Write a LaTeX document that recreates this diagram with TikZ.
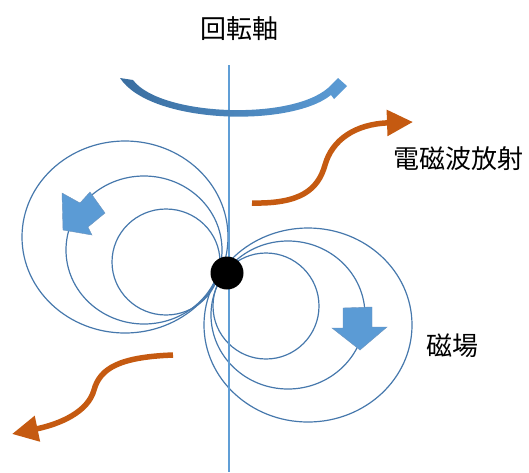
\documentclass[tikz,border=0pt]{standalone}
\usepackage{fontspec}
\newfontfamily\jpfont{Noto Sans CJK JP}
\usepackage{tikz}
\usetikzlibrary{arrows.meta}
\definecolor{fieldblue}{RGB}{70,120,172}
\definecolor{axisblue}{RGB}{96,158,214}
\definecolor{blockblue}{RGB}{91,155,213}
\definecolor{spinblue}{RGB}{58,110,160}
\definecolor{waveorange}{RGB}{197,90,17}

\begin{document}
\begin{tikzpicture}[
    x=1pt, y=-1pt,
    fieldline/.style={draw=fieldblue, line width=1.2pt},
    blockarrow/.style={fill=blockblue, draw=fieldblue!80, line width=0.4pt},
    wave/.style={draw=waveorange, line width=5.5pt, -{Triangle[length=26pt, width=25pt]}},
    label/.style={font=\jpfont\fontsize{26}{30}\selectfont, text=black, inner sep=0pt}
]
    \useasboundingbox (0,0) rectangle (529,472);

    % field loops, left and right of the star
    \draw[fieldline] (125,237) ellipse [x radius=103pt, y radius=96pt];
    \draw[fieldline] (144,250) ellipse [x radius=78pt, y radius=74pt];
    \draw[fieldline] (166,262) ellipse [x radius=54pt, y radius=53pt];
    \draw[fieldline] (308,325) ellipse [x radius=104pt, y radius=97pt];
    \draw[fieldline] (288,315) ellipse [x radius=77pt, y radius=74pt];
    \draw[fieldline] (266,306) ellipse [x radius=53pt, y radius=53pt];

    % rotation axis
    \coordinate (axtop) at (229,65);
    \coordinate (axbot) at (229,472);
    \draw[axisblue, line width=1.5pt] (axtop) -- (axbot);

    % direction of the field
    \filldraw[blockarrow] (62,193) -- (63,230) -- (92,235) -- (88,227) -- (105,213) -- (90,192) -- (80,203) -- cycle;
    \filldraw[blockarrow] (343,308) -- (372,307) -- (372,327) -- (387,327) -- (360,350) -- (332,328) -- (343,328) -- cycle;

    % spin arrow
    \shade[left color=spinblue, right color=blockblue]
        (120,78) -- (133,80) .. controls (160,116) and (290,121) .. (328,88)
        -- (338,78) -- (347,86) -- (334,99) -- (331,95)
        .. controls (290,128) and (150,124) .. (120,78) -- cycle;

    % emitted waves
    \draw[wave] (252,203) .. controls (300,204) and (318,190) .. (325,165)
        .. controls (332,140) and (355,124) .. (413,122);
    \draw[wave] (173,355) .. controls (120,357) and (100,368) .. (94,390)
        .. controls (88,412) and (60,424) .. (12,434);

    % central star
    \node[circle, fill=black, minimum size=33pt, inner sep=0pt] (star) at (227,273) {};

    \node[label] (axis) at (239,29) {回転軸};
    \node[label] (emit) at (458,159) {電磁波放射};
    \node[label] (field) at (452,346) {磁場};
\end{tikzpicture}
\end{document}
